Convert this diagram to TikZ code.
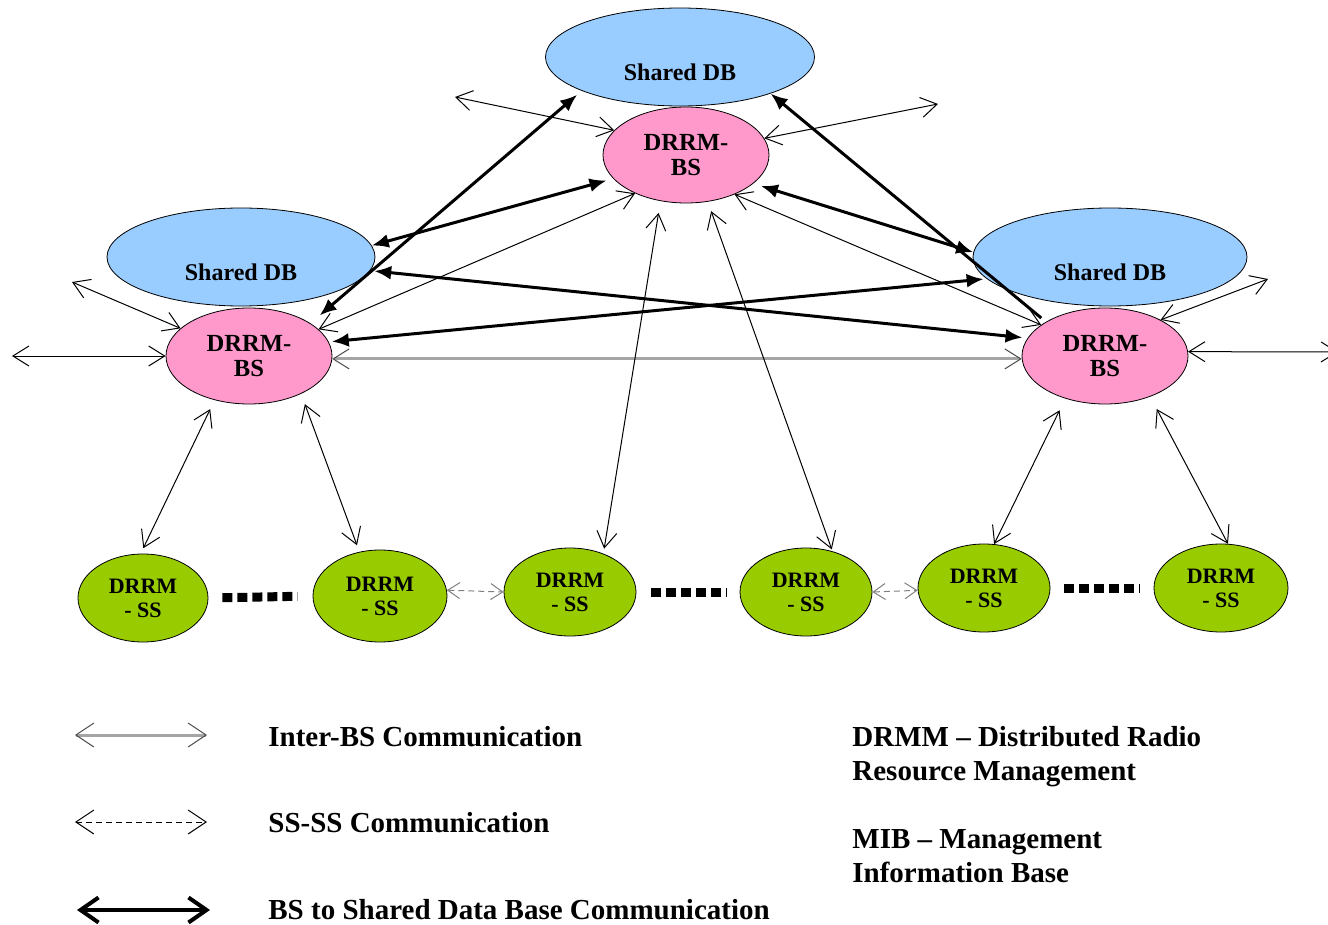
\documentclass[tikz,border=0pt]{standalone}
\usepackage{fontspec}
\setmainfont{Liberation Serif}
\usetikzlibrary{shapes.geometric,arrows.meta}
\definecolor{dbblue}{RGB}{153,204,255}
\definecolor{bspink}{RGB}{255,153,204}
\definecolor{ssgreen}{RGB}{153,204,0}
\definecolor{lgray}{RGB}{165,165,165}
\begin{document}
\begin{tikzpicture}[x=0.5pt,y=-0.5pt,
  dbnode/.style={ellipse,draw=black,line width=0.4pt,fill=dbblue,inner sep=0pt,
    minimum width=134pt,minimum height=49pt},
  dblabel/.style={font=\bfseries\fontsize{12}{13}\selectfont,yshift=-7.5pt},
  bsnode/.style={ellipse,draw=black,line width=0.4pt,fill=bspink,inner sep=0pt,
    minimum width=83pt,minimum height=48pt,align=center,
    font=\bfseries\fontsize{12.3}{12.5}\selectfont},
  ssnode/.style={ellipse,draw=black,line width=0.4pt,fill=ssgreen,inner sep=0pt,
    minimum width=66pt,minimum height=44pt,align=center,
    font=\bfseries\fontsize{11}{12}\selectfont},
  thinarr/.style={line width=0.5pt,black,
    arrows={Straight Barb[length=8pt,width=10pt]-Straight Barb[length=8pt,width=10pt]}},
  grayarr/.style={line width=1.5pt,lgray,
    arrows={Straight Barb[length=8pt,width=10pt,line width=0.5pt,color=black!70]-Straight Barb[length=8pt,width=10pt,line width=0.5pt,color=black!70]}},
  ssarr/.style={line width=0.5pt,gray,dash pattern=on 3pt off 2pt,
    arrows={Straight Barb[length=6pt,width=8pt]-Straight Barb[length=6pt,width=8pt]}},
  thickarr/.style={line width=1.5pt,black,
    arrows={Latex[length=8.5pt,width=7pt]-Latex[length=8.5pt,width=7pt]}},
  thickone/.style={line width=1.5pt,black,arrows={-Latex[length=8.5pt,width=7pt]}},
  dotline/.style={line width=4.5pt,black,dash pattern=on 5pt off 2.5pt},
  legtext/.style={anchor=base west,inner sep=0pt,font=\bfseries\fontsize{14.5}{17}\selectfont},
  legdash/.style={line width=0.5pt,black,dash pattern=on 3pt off 2pt,
    arrows={Straight Barb[length=9pt,width=12pt]-Straight Barb[length=9pt,width=12pt]}},
  leggray/.style={line width=1.5pt,lgray,
    arrows={Straight Barb[length=9pt,width=12pt,line width=0.5pt,color=black!70]-Straight Barb[length=9pt,width=12pt,line width=0.5pt,color=black!70]}},
  legthick/.style={line width=2pt,black,
    arrows={Straight Barb[length=9pt,width=12.5pt]-Straight Barb[length=9pt,width=12.5pt]}}
]
\useasboundingbox (0,0) rectangle (1328,925);

% Shared DBs
\node[dbnode,minimum width=134.5pt,label={[dblabel]center:Shared DB}] (tdb) at (680,57) {};
\node[dbnode,label={[dblabel]center:Shared DB}] (ldb) at (241,257) {};
\node[dbnode,minimum width=137pt,label={[dblabel]center:Shared DB}] (rdb) at (1110,257) {};

% Base stations
\node[bsnode] (tbs) at (686,155) {DRRM-\\BS};
\node[bsnode] (lbs) at (249,356) {DRRM-\\BS};
\node[bsnode] (rbs) at (1105,356) {DRRM-\\BS};

% Subscriber stations
\node[ssnode,minimum width=65pt] (ss1) at (143,598) {DRRM\\- SS};
\node[ssnode,minimum width=67pt,minimum height=46pt] (ss2) at (380,596) {DRRM\\- SS};
\node[ssnode] (ss3) at (570,592) {DRRM\\- SS};
\node[ssnode] (ss4) at (806,592) {DRRM\\- SS};
\node[ssnode] (ss5) at (984,588) {DRRM\\- SS};
\node[ssnode,minimum width=67pt] (ss6) at (1221,588) {DRRM\\- SS};

% free ends
\coordinate (fl) at (12,356);
\coordinate (fr) at (1338,352);
\coordinate (flu) at (72,282);
\coordinate (fru) at (1268,279);
\coordinate (ftl) at (455,97);
\coordinate (ftr) at (938,104);

% Inter-BS communication
\draw[thinarr] (fl) -- (lbs.180);
\draw[thinarr] (fr) -- (rbs.3);
\draw[thinarr] (flu) -- (lbs.158);
\draw[thinarr] (fru) -- (rbs.33);
\draw[thinarr] (ftl) -- (tbs.161);
\draw[thinarr] (ftr) -- (tbs.12);
\draw[thinarr] (lbs.21) -- (tbs.217);
\draw[thinarr] (rbs.154) -- (tbs.-39);
\draw[grayarr] (lbs.-2) -- (rbs.182);

% BS to SS
\draw[thinarr,shorten <=6pt,shorten >=2.5pt] (tbs.241) -- (ss3.49);
\draw[thinarr,shorten <=5pt,shorten >=1pt] (tbs.-65) -- (ss4.57);
\draw[thinarr,shorten <=5pt,shorten >=3pt] (lbs.232) -- (ss1.93);
\draw[thinarr,shorten <=5.5pt,shorten >=3.5pt] (lbs.-36) -- (ss2.115);
\draw[thinarr,shorten <=6.5pt] (rbs.227) -- (ss5.77);
\draw[thinarr,shorten <=7pt] (rbs.-42) -- (ss6.81);

% BS to shared DB
\draw[thickarr,shorten <=6pt,shorten >=3pt] (lbs.28) -- (tdb.199);
\draw[thickone,shorten <=3pt] (rbs.150) -- (tdb.-22);
\draw[thickarr,shorten <=3.5pt] (tbs.198) -- (ldb.5);
\draw[thickarr,shorten <=4pt] (tbs.-23) -- (rdb.178);
\draw[thickarr,shorten <=2pt,shorten >=2.5pt] (ldb.-6) -- (rbs.167);
\draw[thickarr,shorten <=1.5pt,shorten >=1.5pt] (rdb.190) -- (lbs.10);

% SS-SS
\draw[ssarr] (ss2.5) -- (ss3.180);
\draw[ssarr] (ss4.0) -- (ss5.182);

% dotted continuations
\draw[dotline,shorten <=7pt,shorten >=7.5pt] (ss1.east) -- (ss2.west);
\draw[dotline,shorten <=7.5pt,shorten >=6.5pt] (ss3.east) -- (ss4.west);
\draw[dotline,shorten <=7pt,shorten >=7pt] (ss5.east) -- (ss6.west);

% legend
\coordinate (la1) at (75,735); \coordinate (lb1) at (207,735);
\coordinate (la2) at (75,822); \coordinate (lb2) at (207,822);
\coordinate (la3) at (77,910); \coordinate (lb3) at (210,910);
\draw[leggray] (la1) -- (lb1);
\draw[legdash] (la2) -- (lb2);
\draw[legthick] (la3) -- (lb3);
\node[legtext] (t1) at (268,746) {Inter-BS Communication};
\node[legtext] (t2) at (268,832) {SS-SS Communication};
\node[legtext] (t3) at (268,919) {BS to Shared Data Base Communication};
\node[legtext] (t4) at (852,746) {DRMM – Distributed Radio};
\node[legtext] (t5) at (852,780) {Resource Management};
\node[legtext] (t6) at (852,848) {MIB – Management};
\node[legtext] (t7) at (852,882) {Information Base};
\end{tikzpicture}
\end{document}
